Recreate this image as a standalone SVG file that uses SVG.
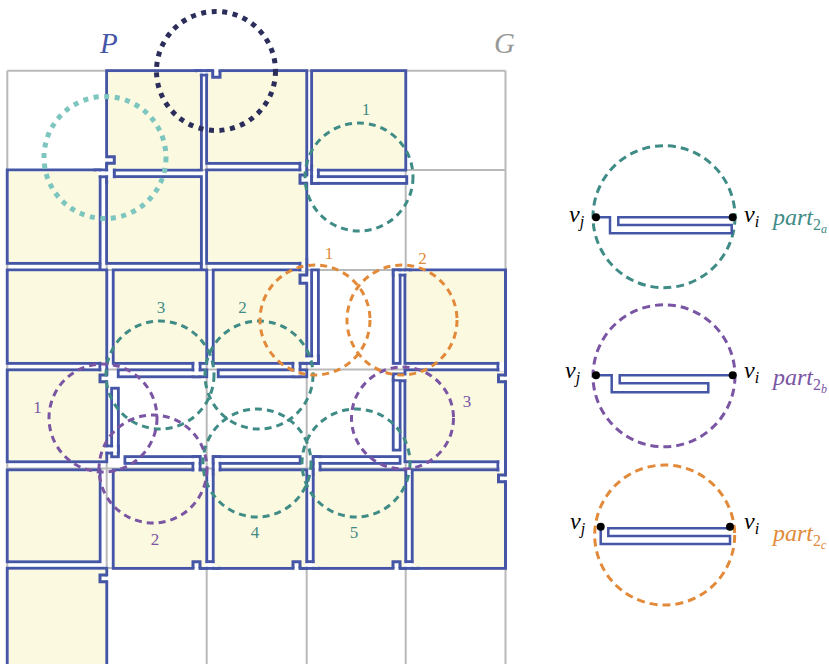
<svg xmlns="http://www.w3.org/2000/svg" width="829" height="664" viewBox="0 0 829 664">
<style>
.grid{stroke:#b9b9b9;stroke-width:2;fill:none}
.po{fill:none;stroke:#4556a6;stroke-width:3}
.wf{fill:#fff}
.yf{fill:#fcf9e1}
.nl{fill:none;stroke:#4556a6;stroke-width:3}
.ct{fill:none;stroke:#3f8b85;stroke-width:3;stroke-dasharray:7 5}
.cp{fill:none;stroke:#7a55a3;stroke-width:3;stroke-dasharray:7 5}
.co{fill:none;stroke:#e28a3a;stroke-width:3;stroke-dasharray:7 5}
.num{font-size:17px;text-anchor:middle}
</style>
<rect width="829" height="664" fill="#fff"/>
<g id="grid" class="grid">
<path d="M7.3,70.7V664M106.7,70.7V664M206.7,70.7V664M306.7,70.7V664M405.7,70.7V664M505.5,70.7V664"/>
<path d="M7.3,70.7H505.5M7.3,170H505.5M7.3,270H505.5M7.3,369.5H505.5M7.3,468.5H505.5M7.3,568H505.5"/>
</g>
<g id="polygon-P">
<g class="po">
<rect x="106.7" y="70.7" width="94.6" height="99.3"/>
<rect x="206.7" y="70.7" width="100" height="92.6"/>
<rect x="311.7" y="70.7" width="94" height="99.3"/>
<rect x="7.3" y="170" width="92.7" height="93.3"/>
<rect x="106.7" y="176.7" width="94.6" height="86.6"/>
<rect x="206.7" y="170" width="100" height="93.3"/>
<rect x="7.3" y="270" width="99.4" height="93.3"/>
<rect x="113.3" y="270" width="93.4" height="93.3"/>
<rect x="213.3" y="270" width="93.4" height="93.3"/>
<rect x="405" y="270" width="100.5" height="93.3"/>
<rect x="7.3" y="370" width="99.4" height="91.7"/>
<rect x="405" y="370" width="100.5" height="91.7"/>
<rect x="7.3" y="470" width="92.7" height="91.7"/>
<rect x="113.3" y="470" width="93.4" height="98.3"/>
<rect x="213.3" y="470" width="93.4" height="98.3"/>
<rect x="313.3" y="470" width="92.4" height="98.3"/>
<rect x="412.3" y="470" width="93.2" height="98.3"/>
<rect x="7.3" y="568.3" width="99.4" height="100"/>
<rect x="311.7" y="176.7" width="95" height="6.6"/>
<rect x="311.7" y="166" width="6.6" height="17.3"/>
<rect x="311.7" y="270" width="6.6" height="93.3"/>
<rect x="303" y="356" width="15.3" height="7.3"/>
<rect x="393.3" y="270" width="6.7" height="93.3"/>
<rect x="393.3" y="270" width="16.7" height="5"/>
<rect x="118.3" y="370" width="88.4" height="6.7"/>
<rect x="193" y="358" width="7" height="18.7"/>
<rect x="218.3" y="370" width="88.4" height="6.7"/>
<rect x="293" y="358" width="7" height="18.7"/>
<rect x="111.7" y="388.3" width="6.6" height="68.4"/>
<rect x="100" y="446" width="18.3" height="7"/>
<rect x="125" y="456.7" width="75" height="6.6"/>
<rect x="193" y="456.7" width="7" height="17.3"/>
<rect x="213.3" y="456.7" width="86.7" height="6.6"/>
<rect x="213.3" y="456.7" width="6.7" height="17.3"/>
<rect x="313.3" y="456.7" width="86.7" height="6.6"/>
<rect x="313.3" y="456.7" width="6.7" height="17.3"/>
<rect x="393.3" y="380" width="6.7" height="70"/>
<rect x="393.3" y="374" width="16.7" height="6.7"/>
<rect x="95" y="170" width="17" height="6.7"/>
<rect x="106.7" y="165" width="7.6" height="17"/>
<rect x="196" y="70.7" width="16" height="4.3"/>
<rect x="300" y="160" width="6.7" height="14"/>
<rect x="300" y="259" width="6.7" height="14"/>
<rect x="100" y="358" width="6.7" height="16"/>
<rect x="498" y="358" width="7.5" height="15"/>
<rect x="498" y="457" width="7.5" height="17"/>
<rect x="201" y="561.7" width="18" height="6.6"/>
<rect x="301" y="561.7" width="18" height="6.6"/>
<rect x="401" y="561.7" width="17" height="6.6"/>
</g>
<g class="wf">
<rect x="313.2" y="178.2" width="92" height="3.6"/>
<rect x="313.2" y="167.5" width="3.6" height="14.3"/>
<rect x="313.2" y="271.5" width="3.6" height="90.3"/>
<rect x="304.5" y="357.5" width="12.3" height="4.3"/>
<rect x="394.8" y="271.5" width="3.7" height="90.3"/>
<rect x="394.8" y="271.5" width="13.7" height="2"/>
<rect x="119.8" y="371.5" width="85.4" height="3.7"/>
<rect x="194.5" y="359.5" width="4" height="15.7"/>
<rect x="219.8" y="371.5" width="85.4" height="3.7"/>
<rect x="294.5" y="359.5" width="4" height="15.7"/>
<rect x="113.2" y="389.8" width="3.6" height="65.4"/>
<rect x="101.5" y="447.5" width="15.3" height="4"/>
<rect x="126.5" y="458.2" width="72" height="3.6"/>
<rect x="194.5" y="458.2" width="4" height="14.3"/>
<rect x="214.8" y="458.2" width="83.7" height="3.6"/>
<rect x="214.8" y="458.2" width="3.7" height="14.3"/>
<rect x="314.8" y="458.2" width="83.7" height="3.6"/>
<rect x="314.8" y="458.2" width="3.7" height="14.3"/>
<rect x="394.8" y="381.5" width="3.7" height="67"/>
<rect x="394.8" y="375.5" width="13.7" height="3.7"/>
<rect x="96.5" y="171.5" width="14" height="3.7"/>
<rect x="108.2" y="166.5" width="4.6" height="14"/>
<rect x="197.5" y="72.2" width="13" height="1.3"/>
<rect x="301.5" y="161.5" width="3.7" height="11"/>
<rect x="301.5" y="260.5" width="3.7" height="11"/>
<rect x="101.5" y="359.5" width="3.7" height="13"/>
<rect x="499.5" y="359.5" width="4.5" height="12"/>
<rect x="499.5" y="458.5" width="4.5" height="14"/>
<rect x="202.5" y="563.2" width="15" height="3.6"/>
<rect x="302.5" y="563.2" width="15" height="3.6"/>
<rect x="402.5" y="563.2" width="14" height="3.6"/>
</g>
<g class="yf">
<rect x="108.2" y="72.2" width="91.6" height="96.3"/>
<rect x="208.2" y="72.2" width="97" height="89.6"/>
<rect x="313.2" y="72.2" width="91" height="96.3"/>
<rect x="8.8" y="171.5" width="89.7" height="90.3"/>
<rect x="108.2" y="178.2" width="91.6" height="83.6"/>
<rect x="208.2" y="171.5" width="97" height="90.3"/>
<rect x="8.8" y="271.5" width="96.4" height="90.3"/>
<rect x="114.8" y="271.5" width="90.4" height="90.3"/>
<rect x="214.8" y="271.5" width="90.4" height="90.3"/>
<rect x="406.5" y="271.5" width="97.5" height="90.3"/>
<rect x="8.8" y="371.5" width="96.4" height="88.7"/>
<rect x="406.5" y="371.5" width="97.5" height="88.7"/>
<rect x="8.8" y="471.5" width="89.7" height="88.7"/>
<rect x="114.8" y="471.5" width="90.4" height="95.3"/>
<rect x="214.8" y="471.5" width="90.4" height="95.3"/>
<rect x="314.8" y="471.5" width="89.4" height="95.3"/>
<rect x="413.8" y="471.5" width="90.2" height="95.3"/>
<rect x="8.8" y="569.8" width="96.4" height="97"/>
</g>
<path class="nl" d="M100,263.3V270M201.3,263.3V270"/>
<g id="notches">
<g class="wf">
<rect x="103.7" y="158.2" width="9.1" height="3.6"/>
<rect x="214.2" y="67.7" width="4.3" height="8.1"/>
<rect x="301.5" y="176.5" width="8.2" height="5.3"/>
<rect x="301.5" y="276.5" width="8.2" height="5.3"/>
<rect x="101.5" y="376.5" width="8.2" height="3.7"/>
<rect x="194.5" y="563.2" width="4" height="8.1"/>
<rect x="294.5" y="563.2" width="4" height="8.1"/>
<rect x="394.5" y="563.2" width="4" height="8.1"/>
<rect x="500" y="476.5" width="8.5" height="3.7"/>
<rect x="500" y="376.5" width="8.5" height="3.7"/>
<rect x="101.5" y="576.5" width="8.2" height="3.7"/>
</g>
<path class="nl" d="M106.7,156.7H114.3V163.3H106.7M212.7,70.7V77.3H220V70.7M306.7,175H300V183.3H306.7M306.7,275H300V283.3H306.7M106.7,375H100V381.7H106.7M193,568.3V561.7H200V568.3M293,568.3V561.7H300V568.3M393,568.3V561.7H400V568.3M505.5,475H498.5V481.7H505.5M505.5,375H498.5V381.7H505.5M106.7,575H100V581.7H106.7"/>
</g>
</g>
<g id="circles">
<circle cx="105" cy="157.5" r="61" fill="none" stroke="#7dc5bf" stroke-width="5" stroke-dasharray="5 5.6"/>
<circle cx="216" cy="71" r="59.5" fill="none" stroke="#2b2e5a" stroke-width="5" stroke-dasharray="5 5.6"/>
<circle class="ct" cx="359" cy="177" r="54"/>
<circle class="ct" cx="259" cy="375" r="54"/>
<circle class="ct" cx="160" cy="375" r="54"/>
<circle class="ct" cx="257" cy="463" r="54"/>
<circle class="ct" cx="356" cy="463" r="54"/>
<circle class="cp" cx="103" cy="418" r="54"/>
<circle class="cp" cx="153" cy="469" r="54"/>
<circle class="cp" cx="402.5" cy="418" r="51"/>
<circle class="co" cx="315" cy="320" r="55"/>
<circle class="co" cx="402" cy="320" r="55"/>
</g>
<g id="labels" font-family="Liberation Serif, serif">
<text x="100" y="53" font-size="29" font-style="italic" fill="#4556a6">P</text>
<text x="494" y="53" font-size="29" font-style="italic" fill="#999">G</text>
<text class="num" x="366" y="115" fill="#3f8b85">1</text>
<text class="num" x="161" y="313" fill="#3f8b85">3</text>
<text class="num" x="242.5" y="313" fill="#3f8b85">2</text>
<text class="num" x="255" y="538" fill="#3f8b85">4</text>
<text class="num" x="354" y="538" fill="#3f8b85">5</text>
<text class="num" x="37.5" y="413" fill="#7a55a3">1</text>
<text class="num" x="155" y="545" fill="#7a55a3">2</text>
<text class="num" x="467" y="407" fill="#7a55a3">3</text>
<text class="num" x="329" y="259" fill="#e28a3a">1</text>
<text class="num" x="422.5" y="264" fill="#e28a3a">2</text>
</g>
<g id="part-2a" font-family="Liberation Serif, serif">
<circle cx="664" cy="216.7" r="71" fill="none" stroke="#3f8b85" stroke-width="3" stroke-dasharray="8 5"/>
<path d="M596,217.3H610V233.3H731.7V225H618.3V217.3H732.7" fill="none" stroke="#4556a6" stroke-width="2.5"/>
<circle cx="596" cy="217.3" r="4"/>
<circle cx="732.7" cy="217.3" r="4"/>
<text x="569" y="222" font-size="24" font-style="italic">v<tspan font-size="16" dy="5">j</tspan></text>
<text x="744" y="222" font-size="24" font-style="italic">v<tspan font-size="16" dy="5">i</tspan></text>
<text x="773" y="225" font-size="24" font-style="italic" fill="#3f8b85">part<tspan font-size="16" dy="5" font-style="normal">2</tspan><tspan font-size="12" dy="3">a</tspan></text>
</g>
<g id="part-2b" font-family="Liberation Serif, serif">
<circle cx="664" cy="375.8" r="71" fill="none" stroke="#7a55a3" stroke-width="3" stroke-dasharray="8 5"/>
<path d="M596,375.3H611.7V392.3H708.3V383.3H619.7V375.3H732.7" fill="none" stroke="#4556a6" stroke-width="2.5"/>
<circle cx="596" cy="375.3" r="4"/>
<circle cx="732.7" cy="375.3" r="4"/>
<text x="565" y="378" font-size="24" font-style="italic">v<tspan font-size="16" dy="5">j</tspan></text>
<text x="744" y="378" font-size="24" font-style="italic">v<tspan font-size="16" dy="5">i</tspan></text>
<text x="773" y="385" font-size="24" font-style="italic" fill="#7a55a3">part<tspan font-size="16" dy="5" font-style="normal">2</tspan><tspan font-size="12" dy="3">b</tspan></text>
</g>
<g id="part-2c" font-family="Liberation Serif, serif">
<circle cx="664.7" cy="535" r="70" fill="none" stroke="#e28a3a" stroke-width="3" stroke-dasharray="8 5"/>
<path d="M600.7,526.7V544H730V536H608.3V528.3H730" fill="none" stroke="#4556a6" stroke-width="2.5"/>
<circle cx="600.7" cy="526.7" r="4"/>
<circle cx="730" cy="526.7" r="4"/>
<text x="570" y="529" font-size="24" font-style="italic">v<tspan font-size="16" dy="5">j</tspan></text>
<text x="744" y="529" font-size="24" font-style="italic">v<tspan font-size="16" dy="5">i</tspan></text>
<text x="773" y="541" font-size="24" font-style="italic" fill="#e28a3a">part<tspan font-size="16" dy="5" font-style="normal">2</tspan><tspan font-size="12" dy="3">c</tspan></text>
</g>
</svg>
